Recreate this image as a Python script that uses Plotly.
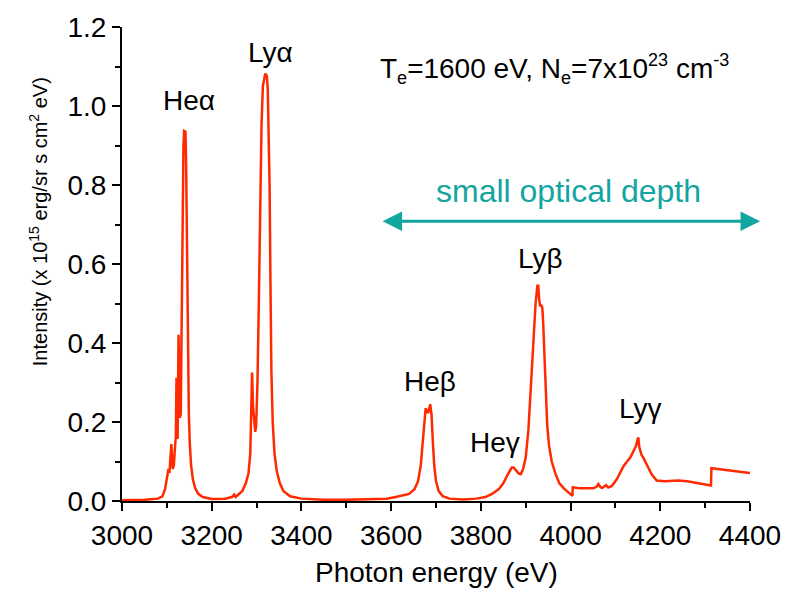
import plotly.graph_objects as go

# Photon energy (eV) and intensity (x 1e15 erg/sr s cm^2 eV)
energy = [
    3000, 3050, 3080, 3090, 3096, 3100, 3103, 3106, 3108, 3110, 3113, 3115.5, 3119, 3120, 3121.5,
    3124, 3126, 3129, 3131, 3133, 3135, 3137, 3138.5, 3141.5, 3143, 3145, 3147, 3149, 3151,
    3154, 3158, 3163, 3170, 3180, 3200, 3230, 3245, 3250, 3253, 3260, 3268, 3276, 3282,
    3286, 3288, 3290, 3292, 3295, 3297, 3299, 3302, 3305, 3308, 3311, 3314, 3317, 3319,
    3321, 3323, 3325, 3327, 3329, 3331, 3333, 3336, 3340, 3345, 3352, 3360, 3375, 3400,
    3450, 3500, 3550, 3590, 3610, 3625, 3640, 3652, 3660, 3666, 3670, 3674, 3677, 3680,
    3683, 3687, 3690, 3693, 3696, 3700, 3706, 3715, 3730, 3760, 3790, 3810, 3825, 3840,
    3850, 3858, 3864, 3869, 3873, 3878, 3884, 3889, 3894, 3900, 3906, 3912, 3918, 3922,
    3926, 3928, 3930, 3932, 3935, 3937, 3939, 3942, 3945, 3948, 3952, 3958, 3966, 3975,
    3985, 3995, 4004, 4005, 4020, 4050, 4058, 4062, 4066, 4070, 4075, 4079, 4084, 4092,
    4103, 4110, 4118, 4126, 4133, 4142, 4146, 4149, 4151, 4153, 4158, 4163, 4167, 4174,
    4181, 4192, 4210, 4240, 4260, 4280, 4300, 4313, 4314, 4350, 4400,
]
intensity = [
    0.002, 0.003, 0.006, 0.012, 0.03, 0.055, 0.077, 0.075, 0.13, 0.144, 0.081, 0.09, 0.15, 0.161, 0.312,
    0.157, 0.421, 0.211, 0.22, 0.45, 0.75, 0.9, 0.937, 0.935, 0.85, 0.62, 0.38, 0.22, 0.15,
    0.09, 0.055, 0.033, 0.018, 0.01, 0.005, 0.006, 0.01, 0.016, 0.01, 0.016, 0.025, 0.045, 0.07,
    0.12, 0.2, 0.325, 0.24, 0.2, 0.175, 0.19, 0.3, 0.5, 0.75, 0.95, 1.05, 1.075, 1.08,
    1.08, 1.075, 1.04, 0.95, 0.8, 0.55, 0.33, 0.2, 0.12, 0.075, 0.045, 0.025, 0.012, 0.006,
    0.003, 0.003, 0.004, 0.006, 0.01, 0.014, 0.018, 0.03, 0.05, 0.09, 0.15, 0.21, 0.235, 0.225,
    0.225, 0.245, 0.22, 0.15, 0.09, 0.05, 0.025, 0.012, 0.006, 0.004, 0.006, 0.01, 0.018, 0.03,
    0.045, 0.063, 0.075, 0.085, 0.085, 0.078, 0.07, 0.068, 0.08, 0.11, 0.18, 0.3, 0.43, 0.5,
    0.545, 0.545, 0.51, 0.495, 0.495, 0.49, 0.45, 0.36, 0.26, 0.19, 0.14, 0.1, 0.07, 0.045,
    0.032, 0.022, 0.013, 0.035, 0.032, 0.032, 0.036, 0.043, 0.036, 0.033, 0.036, 0.04, 0.034, 0.038,
    0.055, 0.07, 0.088, 0.1, 0.11, 0.13, 0.14, 0.155, 0.161, 0.138, 0.117, 0.108, 0.1, 0.083,
    0.067, 0.052, 0.05, 0.052, 0.05, 0.046, 0.042, 0.039, 0.083, 0.078, 0.071,
]

x_ticks = [3000, 3200, 3400, 3600, 3800, 4000, 4200, 4400]
y_ticks = [0.0, 0.2, 0.4, 0.6, 0.8, 1.0, 1.2]

# Line labels: (text, energy, intensity)
labels = [
    ("He\u03b1", 3149, 1.015),
    ("Ly\u03b1", 3332, 1.135),
    ("He\u03b2", 3687, 0.303),
    ("He\u03b3", 3831, 0.147),
    ("Ly\u03b2", 3934, 0.613),
    ("Ly\u03b3", 4155, 0.234),
]

FONT = "Liberation Sans, Arial, sans-serif"
TEAL = "#13A5A0"

fig = go.Figure()
fig.add_trace(go.Scatter(x=energy, y=intensity, mode="lines",
                         line=dict(color="#FF2A00", width=2.5), showlegend=False))

axis_common = dict(showgrid=False, zeroline=False, showline=True, linecolor="black",
                   linewidth=2, ticks="outside", ticklen=8, tickwidth=1.5, tickcolor="black",
                   tickfont=dict(family=FONT, size=28, color="black"))

fig.update_xaxes(range=[3000, 4400], tickvals=x_ticks,
                 minor=dict(dtick=100, tick0=3000, ticks="outside", ticklen=5, tickwidth=1.5,
                            tickcolor="black", showgrid=False),
                 **axis_common)
fig.update_yaxes(range=[0, 1.2], tickvals=y_ticks, tickformat=".1f",
                 minor=dict(dtick=0.1, tick0=0, ticks="outside", ticklen=5, tickwidth=1.5,
                            tickcolor="black", showgrid=False),
                 **axis_common)

anns = []
for t, xx, yy in labels:
    anns.append(dict(text=t, x=xx, y=yy, xref="x", yref="y", showarrow=False,
                     xanchor="center", yanchor="middle",
                     font=dict(family=FONT, size=28, color="black")))

SS = "<span style='font-size:18px'>%s</span>"
anns.append(dict(text="T<sub>" + SS % "e" + "</sub>=1600 eV, N<sub>" + SS % "e"
                 + "</sub>=7x10<sup>" + SS % "23" + "</sup> cm<sup>" + SS % "-3" + "</sup>",
                 x=3571, y=1.093, xref="x", yref="y", showarrow=False,
                 xanchor="left", yanchor="middle",
                 font=dict(family=FONT, size=28, color="black")))

anns.append(dict(text="small optical depth", x=3995, y=0.785, xref="x", yref="y",
                 showarrow=False, xanchor="center", yanchor="middle",
                 font=dict(family=FONT, size=32, color=TEAL)))

# double-headed arrow
anns.append(dict(text="", x=1.016, y=0.708, xref="paper", yref="y",
                 ax=-379, ay=0, axref="pixel", ayref="pixel",
                 showarrow=True, arrowhead=2, startarrowhead=2, arrowside="end+start",
                 arrowsize=1.3, startarrowsize=1.3, arrowwidth=3, arrowcolor=TEAL))

anns.append(dict(text="Photon energy (eV)", x=0.5, y=-0.15, xref="paper", yref="paper",
                 showarrow=False, xanchor="center", yanchor="middle",
                 font=dict(family=FONT, size=28, color="black")))
anns.append(dict(text="Intensity (x 10<sup>15</sup> erg/sr s cm<sup>2</sup> eV)",
                 x=-0.134, y=0.59, xref="paper", yref="paper", textangle=-90,
                 showarrow=False, xanchor="center", yanchor="middle",
                 font=dict(family=FONT, size=20, color="black")))

fig.update_layout(width=797, height=592, margin=dict(l=122, r=47, t=23, b=91, pad=0),
                  paper_bgcolor="white", plot_bgcolor="white", annotations=anns)

fig.write_html("out.html")
